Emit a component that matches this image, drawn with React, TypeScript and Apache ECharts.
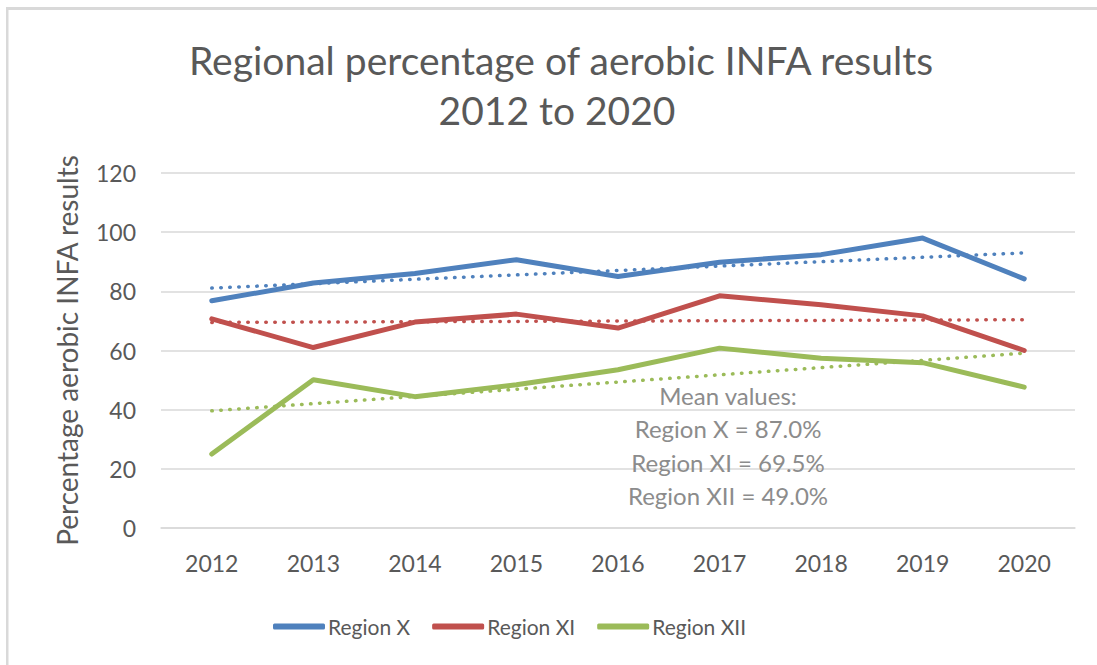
import React, { useEffect, useRef } from "react";
import * as echarts from "echarts";

const years = ["2012", "2013", "2014", "2015", "2016", "2017", "2018", "2019", "2020"];
const regionX = [76.8, 82.8, 86.0, 90.7, 85.0, 89.8, 92.4, 98.0, 84.2];
const regionXI = [70.7, 61.0, 69.6, 72.3, 67.6, 78.5, 75.5, 71.7, 60.0];
const regionXII = [25.0, 50.1, 44.4, 48.4, 53.5, 60.8, 57.4, 55.9, 47.6];
const trendX = [81.1, null, null, null, null, null, null, null, 93.0];
const trendXI = [69.5, null, null, null, null, null, null, null, 70.4];
const trendXII = [39.6, null, null, null, null, null, null, null, 59.1];
const seriesNames = ["Region X", "Region XI", "Region XII"];
const colors = ["#4F81BD", "#C0504D", "#9BBB59"];
const meanLines = ["Mean values:", "Region X = 87.0%", "Region XI = 69.5%", "Region XII = 49.0%"];
const titleLines = ["Regional percentage of aerobic INFA results", "2012 to 2020"];
const yTicks = { min: 0, max: 120, interval: 20 };

const FONT = "Lato, 'Open Sans', sans-serif";

export default function App() {
  const ref = useRef<HTMLDivElement>(null);
  useEffect(() => {
    if (!ref.current) return;
    const chart = echarts.init(ref.current, undefined, { renderer: "svg" });
    const mainData = [regionX, regionXI, regionXII];
    const trendData = [trendX, trendXI, trendXII];
    const series: any[] = [];
    mainData.forEach((d, i) => {
      series.push({
        name: seriesNames[i],
        type: "line",
        data: d,
        symbol: "none",
        z: 3,
        lineStyle: { color: colors[i], width: 5, cap: "round", join: "round" },
        itemStyle: { color: colors[i] },
      });
    });
    trendData.forEach((d, i) => {
      series.push({
        name: seriesNames[i] + " trend",
        type: "line",
        data: d,
        symbol: "none",
        connectNulls: true,
        z: 2,
        lineStyle: { color: colors[i], width: 3.5, type: [0.5, 8.5], cap: "round" },
        itemStyle: { color: colors[i] },
      });
    });
    chart.setOption({
      animation: false,
      backgroundColor: "#ffffff",
      textStyle: { fontFamily: FONT },
      grid: { left: 161, right: 22, top: 173, bottom: 137 },
      xAxis: {
        type: "category",
        data: years,
        boundaryGap: true,
        axisLine: { show: true, lineStyle: { color: "#d9d9d9", width: 1.5 } },
        axisTick: { show: false },
        axisLabel: { color: "#595959", fontSize: 23, margin: 23, fontFamily: FONT },
      },
      yAxis: {
        type: "value",
        min: yTicks.min,
        max: yTicks.max,
        interval: yTicks.interval,
        name: "Percentage aerobic INFA results",
        nameLocation: "middle",
        nameGap: 80,
        nameTextStyle: { color: "#595959", fontSize: 28, fontFamily: FONT },
        axisLine: { show: false },
        axisTick: { show: false },
        axisLabel: { color: "#595959", fontSize: 23, margin: 25, fontFamily: FONT },
        splitLine: { lineStyle: { color: "#d9d9d9", width: 1.5 } },
      },
      legend: {
        data: seriesNames.map((n, i) => ({ name: n, itemStyle: { color: colors[i] } })),
        left: 268,
        top: 611,
        icon: "roundRect",
        itemWidth: 52,
        itemHeight: 6,
        itemGap: 22,
        textStyle: { color: "#595959", fontSize: 21, fontFamily: FONT, padding: [0, 0, 0, -2] },
      },
      graphic: [
        { type: "rect", shape: { x: 6, y: 7, width: 1091, height: 3 }, style: { fill: "#d9d9d9" }, silent: true },
        { type: "rect", shape: { x: 6, y: 7, width: 2.5, height: 658 }, style: { fill: "#d9d9d9" }, silent: true },
        {
          type: "text",
          x: 561,
          y: 60,
          style: { text: titleLines[0], fill: "#595959", font: `39px ${FONT}`, textAlign: "center", textVerticalAlign: "middle" },
        },
        {
          type: "text",
          x: 557,
          y: 110,
          style: { text: titleLines[1], fill: "#595959", font: `39px ${FONT}`, textAlign: "center", textVerticalAlign: "middle" },
        },
        ...meanLines.map((t, i) => ({
          type: "text",
          x: 728,
          y: 395 + i * 33.5,
          z: 10,
          style: { text: t, fill: "#8c8c8c", font: `24px ${FONT}`, textAlign: "center", textVerticalAlign: "middle" },
        })),
      ],
      series,
    });
    return () => chart.dispose();
  }, []);
  return (
    <div
      ref={ref}
      style={{ position: "absolute", left: 0, top: 0, width: 1097, height: 665, background: "#fff" }}
    />
  );
}
